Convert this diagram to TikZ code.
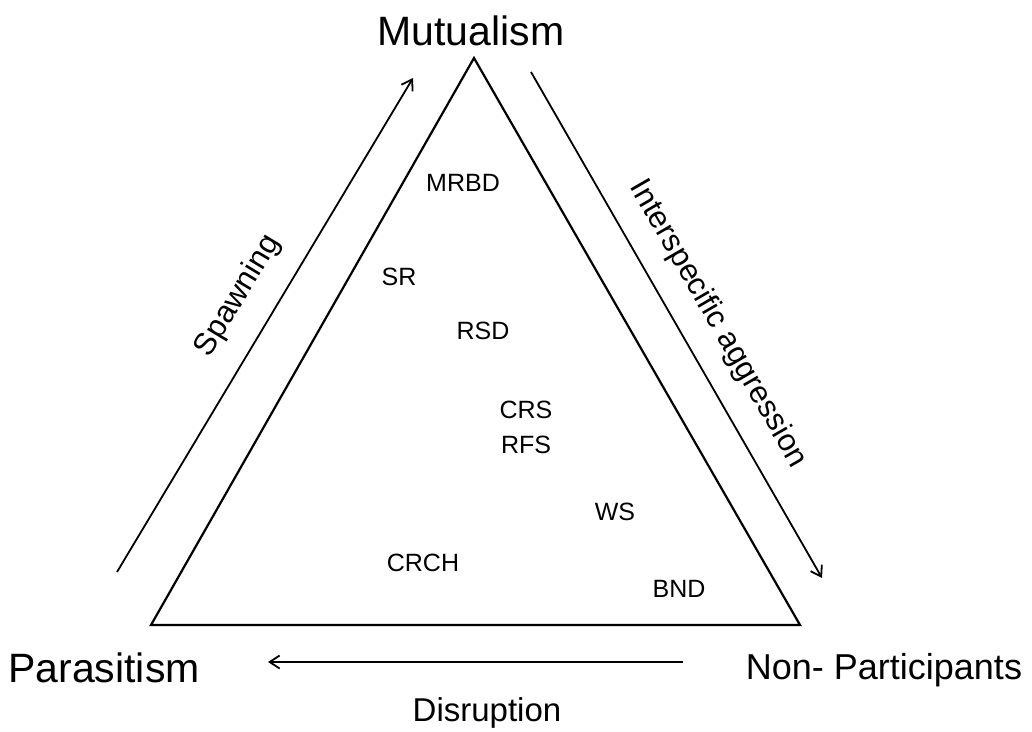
\documentclass[tikz,border=0pt]{standalone}
\usepackage{fontspec}
\setmainfont{Liberation Sans}
\usetikzlibrary{arrows.meta}
\begin{document}
\begin{tikzpicture}[x=1pt,y=-1pt,
  tri/.style={line width=2.2pt, line join=miter},
  arr/.style={line width=1.8pt, -{Straight Barb[length=10pt,width=13pt,line width=1.8pt]}},
  big/.style={font=\fontsize{41}{43}\selectfont, inner sep=0pt},
  bign/.style={font=\fontsize{36}{38}\selectfont, inner sep=0pt},
  mid/.style={font=\fontsize{33}{35}\selectfont, inner sep=0pt},
  side/.style={font=\fontsize{31}{33}\selectfont, inner sep=0pt},
  small/.style={font=\fontsize{25}{27}\selectfont, inner sep=0pt}]
\useasboundingbox (0,0) rectangle (1032,731);
% triangle
\coordinate (T) at (474,58);
\coordinate (L) at (151,625);
\coordinate (R) at (800,625);
\draw[tri] (T) -- (L) -- (R) -- cycle;
% arrows
\coordinate (sa) at (117,572);
\coordinate (sb) at (413,78);
\draw[arr] (sa) -- (sb);
\coordinate (ia) at (531,72);
\coordinate (ib) at (822,578);
\draw[arr] (ia) -- (ib);
\coordinate (da) at (683,662);
\coordinate (db) at (268,662);
\draw[arr] (da) -- (db);
% corner labels
\node[big] (mut) at (471,31) {Mutualism};
\node[big] (par) at (104,668) {Parasitism};
\node[bign] (non) at (884,670) {Non- Participants};
\node[mid] (dis) at (487,713) {Disruption};
% side labels
\node[side, rotate=59] (spa) at (238,296) {Spawning};
\node[side, rotate=-60] (int) at (718,324) {Interspecific aggression};
% inner labels
\node[small] (mrbd) at (463,183) {MRBD};
\node[small] (sr) at (399,277) {SR};
\node[small] (rsd) at (483,331) {RSD};
\node[small] (crs) at (526,410) {CRS};
\node[small] (rfs) at (526,445) {RFS};
\node[small] (ws) at (615,512) {WS};
\node[small] (crch) at (423,563) {CRCH};
\node[small] (bnd) at (679,589) {BND};
\end{tikzpicture}
\end{document}
